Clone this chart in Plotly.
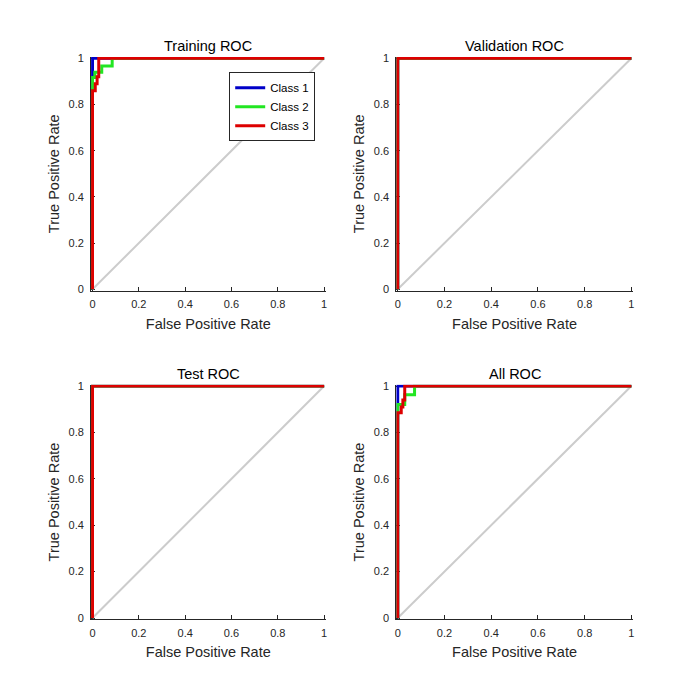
import plotly.graph_objects as go

# ---- data ----
class_names = ["Class 1", "Class 2", "Class 3"]
panel_titles = ["Training ROC", "Validation ROC", "Test ROC", "All ROC"]
tick_vals = [0, 0.2, 0.4, 0.6, 0.8, 1]
tick_text = ["0", "0.2", "0.4", "0.6", "0.8", "1"]

train_c1_fpr = [0, 0, 1]
train_c1_tpr = [0, 1, 1]
train_c2_fpr = [0, 0, 0.01, 0.01, 0.04, 0.04, 0.085, 0.085, 1]
train_c2_tpr = [0, 0.917, 0.917, 0.94, 0.94, 0.967, 0.967, 1, 1]
train_c3_fpr = [0, 0, 0.012, 0.012, 0.02, 0.02, 0.027, 0.027, 1]
train_c3_tpr = [0, 0.86, 0.86, 0.89, 0.89, 0.92, 0.92, 1, 1]

val_c1_fpr = [0, 0, 1]
val_c1_tpr = [0, 1, 1]
val_c2_fpr = [0, 0, 1]
val_c2_tpr = [0, 1, 1]
val_c3_fpr = [0, 0, 1]
val_c3_tpr = [0, 1, 1]

test_c1_fpr = [0, 0, 1]
test_c1_tpr = [0, 1, 1]
test_c2_fpr = [0, 0, 1]
test_c2_tpr = [0, 1, 1]
test_c3_fpr = [0, 0, 1]
test_c3_tpr = [0, 1, 1]

all_c1_fpr = [0, 0, 1]
all_c1_tpr = [0, 1, 1]
all_c2_fpr = [0, 0, 0.03, 0.03, 0.072, 0.072, 1]
all_c2_tpr = [0, 0.92, 0.92, 0.962, 0.962, 1, 1]
all_c3_fpr = [0, 0, 0.015, 0.015, 0.022, 0.022, 0.03, 0.03, 1]
all_c3_tpr = [0, 0.885, 0.885, 0.91, 0.91, 0.94, 0.94, 1, 1]

diag_x = [0, 1]
diag_y = [0, 1]

panels = [
    [(train_c1_fpr, train_c1_tpr), (train_c2_fpr, train_c2_tpr), (train_c3_fpr, train_c3_tpr)],
    [(val_c1_fpr, val_c1_tpr), (val_c2_fpr, val_c2_tpr), (val_c3_fpr, val_c3_tpr)],
    [(test_c1_fpr, test_c1_tpr), (test_c2_fpr, test_c2_tpr), (test_c3_fpr, test_c3_tpr)],
    [(all_c1_fpr, all_c1_tpr), (all_c2_fpr, all_c2_tpr), (all_c3_fpr, all_c3_tpr)],
]

colors = ["#0000c8", "#22e622", "#dd0000"]
W = H = 700
# pixel positions of data 0 and data 1 (x0, x1, y1, y0)
boxes = [(91, 324, 54, 288), (398, 633, 54, 288), (91, 324, 386, 621), (398, 633, 386, 621)]
FONT = "Liberation Sans, Arial, Helvetica, sans-serif"
AX = "#262626"

fig = go.Figure()
layout = dict(
    width=W, height=H, margin=dict(l=0, r=0, t=0, b=0),
    paper_bgcolor="white", plot_bgcolor="white",
    font=dict(family=FONT, color=AX, size=11),
    showlegend=True,
    legend=dict(x=315 / W, y=1 - 68 / H, xanchor="right", yanchor="top",
                bgcolor="white", bordercolor="#262626", borderwidth=1,
                font=dict(size=11.5, color="black"), itemwidth=30,
                tracegroupgap=0),
)
annotations = []
pad = 0.006
for i, (l, r, t, b) in enumerate(boxes):
    n = "" if i == 0 else str(i + 1)
    xa = "x" + n
    ya = "y" + n
    wpx = r - l
    hpx = b - t
    dl, dr = l - pad * wpx, r + pad * wpx
    dt, db = t - pad * hpx, b + pad * hpx
    fig.add_trace(go.Scatter(x=diag_x, y=diag_y, mode="lines", xaxis=xa, yaxis=ya,
                             line=dict(color="#cccccc", width=2), showlegend=False,
                             hoverinfo="skip"))
    for k, (fx, ty) in enumerate(panels[i]):
        fig.add_trace(go.Scatter(x=fx, y=ty, mode="lines", xaxis=xa, yaxis=ya,
                                 name=class_names[k], line=dict(color=colors[k], width=3),
                                 showlegend=(i == 0)))
    common = dict(range=[-pad, 1 + pad], showline=True, linecolor=AX, linewidth=1,
                  ticks="inside", ticklen=4, tickcolor=AX, showgrid=False, zeroline=False,
                  tickvals=tick_vals, ticktext=tick_text, layer="below traces",
                  tickfont=dict(size=11, color=AX, family=FONT))
    layout["xaxis" + n] = dict(common, domain=[dl / W, dr / W], anchor=ya,
                               ticklabelstandoff=3,
                               title=dict(text="False Positive Rate",
                                          font=dict(size=14.5, color=AX), standoff=9))
    layout["yaxis" + n] = dict(common, domain=[1 - db / H, 1 - dt / H], anchor=xa,
                               ticklabelstandoff=4,
                               title=dict(text="True Positive Rate",
                                          font=dict(size=14.5, color=AX), standoff=5))
    annotations.append(dict(text=panel_titles[i], xref="paper", yref="paper",
                            x=(l + r) / 2 / W, y=1 - t / H, xanchor="center",
                            yanchor="bottom", yshift=2, showarrow=False,
                            font=dict(size=14.5, color="black", family=FONT)))
layout["annotations"] = annotations
fig.update_layout(**layout)
fig.write_html("out.html", config={"displayModeBar": False},
               post_script="document.body.style.margin='0';")
